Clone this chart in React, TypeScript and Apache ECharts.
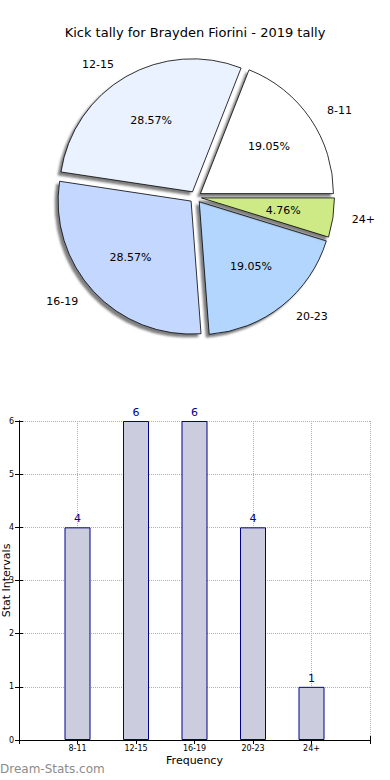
import React, { useEffect, useRef } from "react";
import * as echarts from "echarts";

const chartTitle = "Kick tally for Brayden Fiorini - 2019 tally";
const categories = ["8-11", "12-15", "16-19", "20-23", "24+"];
const counts = [4, 6, 6, 4, 1];
const sliceColors = ["#ffffff", "#eaf2ff", "#c3d7ff", "#b3d6ff", "#cdea86"];
const yAxisName = "Stat Intervals";
const xAxisName = "Frequency";
const watermark = "Dream-Stats.com";

const FONT = "DejaVu Sans";

export default function App() {
  const ref = useRef<HTMLDivElement>(null);
  useEffect(() => {
    document.body.style.margin = "0";
    if (!ref.current) return;
    const chart = echarts.init(ref.current, undefined, { renderer: "svg" });
    const R = 133;
    const center = [195.5, 197];
    const pieData = categories.map((c, i) => ({
      name: c,
      value: counts[i],
      selected: true,
      itemStyle: { color: sliceColors[i] },
    }));
    // bars placed at positions 1..N on an axis running from 0 to N+1
    const barData = counts.map((v, i) => [i + 1, v]);
    const catLabel = (v: number) => (v >= 1 && v <= categories.length ? categories[v - 1] : "");

    const axisCommonX = {
      type: "value",
      min: 0,
      max: categories.length + 1,
      interval: 1,
    };

    chart.setOption({
      animation: false,
      textStyle: { fontFamily: FONT },
      title: {
        text: chartTitle,
        left: "center",
        top: 21,
        textStyle: { fontFamily: FONT, fontSize: 13, fontWeight: "normal", color: "#000" },
      },
      graphic: [
        {
          type: "text",
          left: 0,
          top: 763,
          style: {
            text: watermark,
            fill: "#8c8c8c",
            font: `12px ${FONT}`,
          },
        },
      ],
      grid: {
        left: 19,
        top: 421,
        right: 20,
        bottom: 40,
        containLabel: false,
        outerBoundsMode: "none",
      },
      xAxis: [
        {
          ...axisCommonX,
          name: xAxisName,
          nameLocation: "middle",
          nameGap: 15,
          nameMoveOverlap: false,
          nameTextStyle: { fontFamily: FONT, fontSize: 11, color: "#000" },
          axisLine: { show: true, lineStyle: { color: "#000", width: 1 } },
          axisTick: { show: true, inside: true, length: 4, lineStyle: { color: "#000" } },
          axisLabel: {
            fontSize: 8,
            color: "#000",
            margin: 4,
            formatter: (v: number) => catLabel(v),
          },
          splitLine: { show: true, lineStyle: { type: "dotted", color: "#b0b0b0" } },
        },
        {
          ...axisCommonX,
          position: "top",
          axisLine: { show: true, lineStyle: { color: "#000", width: 1 } },
          axisTick: { show: true, inside: true, length: 4, lineStyle: { color: "#000" } },
          axisLabel: { show: false },
          splitLine: { show: false },
        },
      ],
      yAxis: [
        {
          type: "value",
          min: 0,
          max: 6,
          interval: 1,
          name: yAxisName,
          nameLocation: "middle",
          nameRotate: 90,
          nameGap: 7,
          nameMoveOverlap: false,
          nameTextStyle: { fontFamily: FONT, fontSize: 11, color: "#000" },
          axisLine: { show: true, lineStyle: { color: "#000", width: 1 } },
          axisTick: { show: true, inside: true, length: 4, lineStyle: { color: "#000" } },
          axisLabel: { fontSize: 8, color: "#000", margin: 5 },
          splitLine: { show: true, lineStyle: { type: "dotted", color: "#b0b0b0" } },
        },
        {
          type: "value",
          min: 0,
          max: 6,
          interval: 1,
          position: "right",
          axisLine: { show: true, lineStyle: { color: "#000", width: 1 } },
          axisTick: { show: true, inside: true, length: 4, lineStyle: { color: "#000" } },
          axisLabel: { show: false },
          splitLine: { show: false },
        },
      ],
      series: [
        {
          type: "pie",
          center,
          radius: R,
          startAngle: 0,
          clockwise: false,
          selectedMode: "multiple",
          selectedOffset: 6,
          avoidLabelOverlap: false,
          data: pieData,
          itemStyle: {
            borderColor: "#000",
            borderWidth: 0.8,
            shadowColor: "rgba(0,0,0,0.5)",
            shadowBlur: 2,
            shadowOffsetX: -3,
            shadowOffsetY: 3,
          },
          label: {
            show: true,
            position: "outside",
            formatter: "{b}",
            fontFamily: FONT,
            fontSize: 11,
            color: "#000",
          },
          labelLine: { show: false, length: 14, length2: 0 },
          emphasis: { disabled: true },
          select: { itemStyle: { borderColor: "#000", borderWidth: 0.8 } },
        },
        {
          type: "pie",
          center,
          radius: R * 1.2,
          startAngle: 0,
          clockwise: false,
          selectedMode: "multiple",
          selectedOffset: 6,
          avoidLabelOverlap: false,
          silent: true,
          data: categories.map((c, i) => ({ name: c, value: counts[i], selected: true })),
          itemStyle: { color: "rgba(0,0,0,0)", borderWidth: 0 },
          label: {
            show: true,
            position: "inside",
            formatter: "{d}%",
            fontFamily: FONT,
            fontSize: 11,
            color: "#000",
          },
          labelLine: { show: false },
          emphasis: { disabled: true },
          select: { itemStyle: { color: "rgba(0,0,0,0)", borderWidth: 0 } },
        },
        {
          type: "bar",
          xAxisIndex: 0,
          yAxisIndex: 0,
          data: barData,
          barWidth: 26,
          itemStyle: { color: "#ccccdf", borderColor: "#00008b", borderWidth: 1 },
          label: {
            show: true,
            position: "top",
            distance: 3,
            fontFamily: FONT,
            fontSize: 11,
            color: "#00008b",
            formatter: (p: any) => String(p.value[1]),
          },
          emphasis: { disabled: true },
        },
      ],
    });
    return () => chart.dispose();
  }, []);
  return <div ref={ref} style={{ width: 390, height: 780 }} />;
}
